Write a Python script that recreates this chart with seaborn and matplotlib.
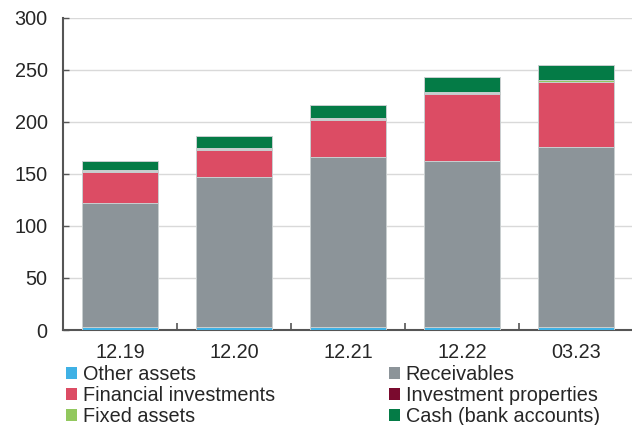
import numpy as np
import pandas as pd
import matplotlib
matplotlib.use('Agg')
import matplotlib.pyplot as plt
import seaborn as sns
from matplotlib.patches import Patch

# данные по периодам
periods = ['12.19', '12.20', '12.21', '12.22', '03.23']
other_assets = [3.0, 3.0, 3.0, 2.5, 2.5]
receivables = [119.0, 144.0, 163.0, 160.0, 173.5]
financial_investments = [30.0, 26.0, 36.0, 64.5, 62.0]
investment_properties = [1.0, 1.0, 1.0, 0.3, 0.3]
fixed_assets = [1.0, 1.0, 1.0, 1.0, 1.5]
cash = [8.0, 11.0, 12.0, 15.0, 15.0]

series_names = ['Other assets', 'Receivables', 'Financial investments',
                'Investment properties', 'Fixed assets', 'Cash (bank accounts)']
series_values = [other_assets, receivables, financial_investments,
                 investment_properties, fixed_assets, cash]
colors = ['#3fb1e5', '#8c9499', '#dc4c64', '#7a0a2e', '#92c85e', '#047b46']

sns.set_style('white')
plt.rcParams['font.family'] = ['Liberation Sans', 'DejaVu Sans']

fig = plt.figure(figsize=(6.32, 4.25), dpi=100)
ax = fig.add_axes([0.0997, 0.2235, 0.9003, 0.7345])

# накопленные столбцы
bottom = np.zeros(len(periods))
for name, vals, col in zip(series_names, series_values, colors):
    df = pd.DataFrame({'period': periods, 'value': vals})
    sns.barplot(data=df, x='period', y='value', order=periods, color=col,
                bottom=bottom, width=0.67, edgecolor='#c9cfd0', linewidth=0.7,
                saturation=1, errorbar=None, ax=ax, zorder=3)
    bottom = bottom + np.array(vals)

ax.set_ylim(0, 300)
ax.set_xlim(-0.5, 4.49)
ax.set_yticks(range(0, 301, 50))
ax.yaxis.grid(True, color='#d9d9d9', linewidth=1, zorder=0)
ax.set_axisbelow(True)
ax.set_xlabel('')
ax.set_ylabel('')

for s in ['top', 'right']:
    ax.spines[s].set_visible(False)
for s in ['left', 'bottom']:
    ax.spines[s].set_color('#555555')
    ax.spines[s].set_linewidth(1.5)

ax.tick_params(axis='y', direction='in', length=4, width=1, color='#555555',
               labelsize=14.3, left=True, pad=11)
ax.tick_params(axis='x', length=0, labelsize=14.3, pad=9)
ax.set_xticks(np.arange(0.5, 4.5, 1.0), minor=True)
ax.tick_params(axis='x', which='minor', direction='in', length=5, width=1.2,
               color='#555555', bottom=True)

# легенда
order = [0, 2, 4, 1, 3, 5]
handles = [Patch(facecolor=colors[i], edgecolor='none') for i in order]
labels = [series_names[i] for i in order]
fig.legend(handles, labels, ncol=2, loc='upper left', bbox_to_anchor=(0.104, 0.142),
           frameon=False, fontsize=14.3, handlelength=0.55, handleheight=0.55,
           handletextpad=0.3, columnspacing=5.75, labelspacing=0.12,
           borderaxespad=0, borderpad=0)

fig.savefig('out.png', dpi=100)
